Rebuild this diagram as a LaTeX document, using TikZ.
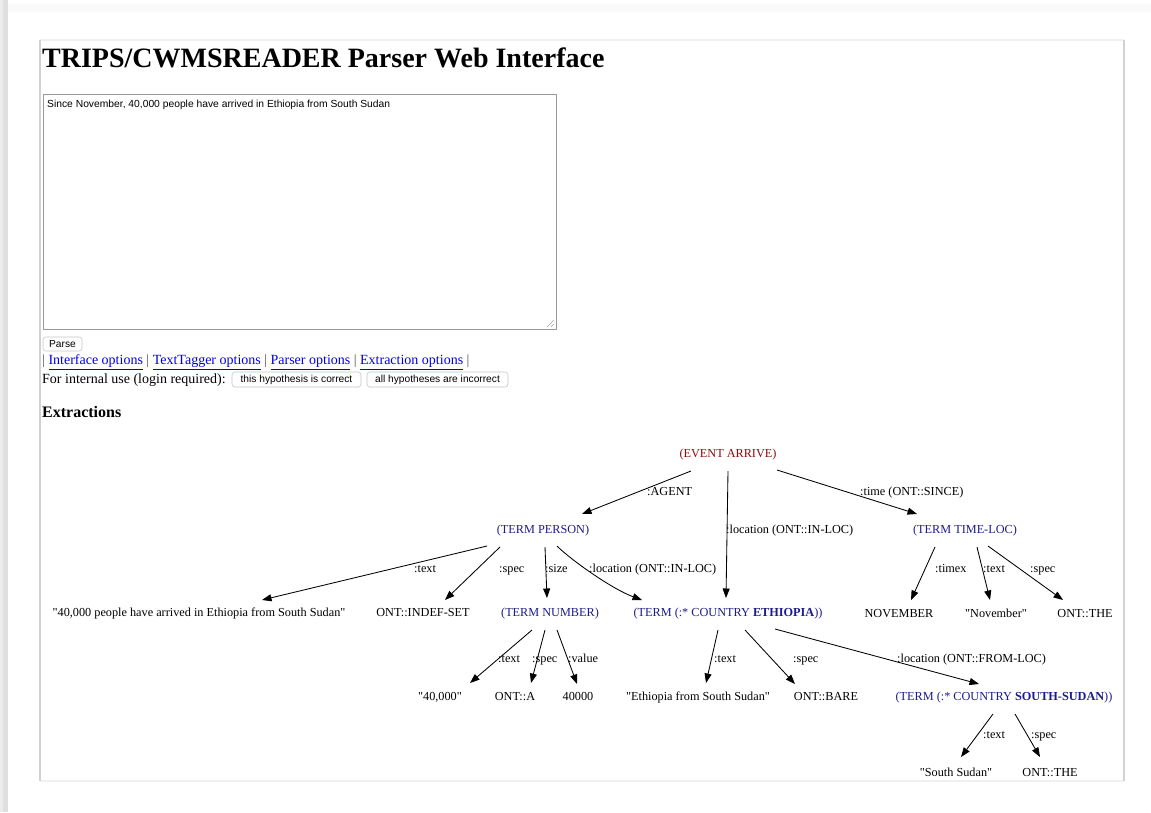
\documentclass[tikz,border=0pt]{standalone}
\usepackage{fontspec}
\setmainfont{Liberation Serif}[Ligatures=TeXOff]
\newfontfamily\uifont{Liberation Sans}
\usetikzlibrary{arrows.meta}
\definecolor{evred}{RGB}{140,10,10}
\definecolor{termblue}{RGB}{28,28,140}
\definecolor{linkblue}{RGB}{0,0,238}
\definecolor{sepgray}{RGB}{80,80,80}
\newcommand{\weblink}[1]{{\color{linkblue}\underline{#1}}}
\newcommand{\barsep}{{\color{sepgray}|}}

\begin{document}
\begin{tikzpicture}[x=1pt,y=-1pt,
  tn/.style={font=\fontsize{12.25}{14}\selectfont, inner sep=0pt, text height=8.6pt, text depth=2.6pt},
  evnode/.style={tn, text=evred},
  term/.style={tn, text=termblue},
  lbl/.style={tn, anchor=west},
  edge/.style={line width=0.85pt, -{Triangle[length=9.5pt,width=7pt]}},
  btn/.style={draw=gray!45, fill=white, rounded corners=3pt, line width=0.6pt,
              font=\uifont\fontsize{10.2}{12}\selectfont, inner sep=0pt}
]

% page
\useasboundingbox (0,0) rectangle (1151,812);
\fill[white] (0,0) rectangle (1151,812);
\fill[gray!25] (0,0) rectangle (8,812);
\fill[gray!15] (0,0) rectangle (2.5,812);
\fill[black!2] (8,4) rectangle (1151,12);

% content frame
\draw[gray!12, line width=1.5pt] (40,40) -- (1124,40);
\draw[gray!12, line width=2pt] (40,781) -- (1124,781);
\draw[gray!35, line width=2pt] (40,40) -- (40,781);
\draw[gray!35, line width=2pt] (1124,40) -- (1124,781);

% heading
\node[anchor=base west, inner sep=0pt, font=\bfseries\fontsize{28}{32}\selectfont] (title) at (42,67) {TRIPS/CWMSREADER Parser Web Interface};

% input area
\draw[gray!80, line width=0.8pt] (43,94) rectangle (556,329);
\node[anchor=west, inner sep=0pt, font=\uifont\fontsize{10.3}{12}\selectfont] (sentence) at (47,104.5) {Since November, 40,000 people have arrived in Ethiopia from South Sudan};
\draw[gray!70, line width=0.6pt] (554,320) -- (547,327) (554,324) -- (551,327);

% controls
\node[btn, minimum width=39pt, minimum height=14pt] (parse) at (62.5,344) {Parse};
\node[anchor=west, inner sep=0pt, font=\fontsize{14}{16}\selectfont] (links) at (42,362)
  {\barsep\ \weblink{Interface options} \barsep\ \weblink{TextTagger options} \barsep\ \weblink{Parser options} \barsep\ \weblink{Extraction options} \barsep};
\node[anchor=west, inner sep=0pt, font=\fontsize{14}{16}\selectfont] (internal) at (42,380) {For internal use (login required):};
\node[btn, minimum width=129pt, minimum height=15pt] (okbtn) at (296.5,379.5) {this hypothesis is correct};
\node[btn, minimum width=141pt, minimum height=15pt] (badbtn) at (437.5,379.5) {all hypotheses are incorrect};
\node[anchor=west, inner sep=0pt, font=\bfseries\fontsize{16}{18}\selectfont] (extr) at (42,412) {Extractions};

% extraction tree
\node[evnode] (ev) at (728,454) {(EVENT ARRIVE)};
\node[term] (per) at (543,530) {(TERM PERSON)};
\node[term] (tl) at (965,530) {(TERM TIME-LOC)};
\node[tn] (ptxt) at (199,613) {"40,000 people have arrived in Ethiopia from South Sudan"};
\node[tn] (indef) at (423,613) {ONT::INDEF-SET};
\node[term] (num) at (550,613) {(TERM NUMBER)};
\node[term] (eth) at (728,613) {(TERM (:* COUNTRY \textbf{ETHIOPIA}))};
\node[tn] (nov) at (899,614) {NOVEMBER};
\node[tn] (novq) at (996,614) {"November"};
\node[tn] (theA) at (1085,614) {ONT::THE};
\node[tn] (q40) at (440,697) {"40,000"};
\node[tn] (onta) at (515,697) {ONT::A};
\node[tn] (n40) at (578,697) {40000};
\node[tn] (ethq) at (698,697) {"Ethiopia from South Sudan"};
\node[tn] (bare) at (826,697) {ONT::BARE};
\node[term] (ss) at (1004,697) {(TERM (:* COUNTRY \textbf{SOUTH-SUDAN}))};
\node[tn] (ssq) at (956,773) {"South Sudan"};
\node[tn] (theB) at (1050,773) {ONT::THE};

% edges
\draw[edge] ([shift={(-37,17)}]ev.center) -- ([shift={(39,-16)}]per.center);
\draw[edge] ([shift={(0,17)}]ev.center) -- ([shift={(-2,-15)}]eth.center);
\draw[edge] ([shift={(49,16)}]ev.center) -- ([shift={(-48,-16)}]tl.center);

\draw[edge] ([shift={(-56,16)}]per.center) -- ([shift={(63,-13)}]ptxt.center);
\draw[edge] ([shift={(-43,17)}]per.center) -- ([shift={(22,-13)}]indef.center);
\draw[edge] ([shift={(2,17)}]per.center) -- ([shift={(-3,-15)}]num.center);
\draw[edge] ([shift={(14,16)}]per.center) .. controls +(14,14) and +(-30,-11) .. ([shift={(-86,-13)}]eth.center);

\draw[edge] ([shift={(-30,17)}]tl.center) -- ([shift={(12,-14)}]nov.center);
\draw[edge] ([shift={(12,17)}]tl.center) -- ([shift={(-6,-14)}]novq.center);
\draw[edge] ([shift={(23,16)}]tl.center) -- ([shift={(-22,-14)}]theA.center);

\draw[edge] ([shift={(-18,17)}]num.center) -- ([shift={(30,-14)}]q40.center);
\draw[edge] ([shift={(-5,17)}]num.center) -- ([shift={(16,-14)}]onta.center);
\draw[edge] ([shift={(7,17)}]num.center) -- ([shift={(-1,-13)}]n40.center);

\draw[edge] ([shift={(-10,17)}]eth.center) -- ([shift={(8,-14)}]ethq.center);
\draw[edge] ([shift={(17,17)}]eth.center) -- ([shift={(-31,-13)}]bare.center);
\draw[edge] ([shift={(47,16)}]eth.center) -- ([shift={(-25,-13)}]ss.center);

\draw[edge] ([shift={(-11,17)}]ss.center) -- ([shift={(5,-16)}]ssq.center);
\draw[edge] ([shift={(11,17)}]ss.center) -- ([shift={(-10,-16)}]theB.center);

% edge labels
\node[lbl] (l1) at (647,492) {:AGENT};
\node[lbl] (l2) at (726,530) {:location (ONT::IN-LOC)};
\node[lbl] (l3) at (860,492) {:time (ONT::SINCE)};
\node[lbl] (l4) at (414,569) {:text};
\node[lbl] (l5) at (499,569) {:spec};
\node[lbl] (l6) at (545,569) {:size};
\node[lbl] (l7) at (589,569) {:location (ONT::IN-LOC)};
\node[lbl] (l8) at (935,569) {:timex};
\node[lbl] (l9) at (983,569) {:text};
\node[lbl] (l10) at (1030,569) {:spec};
\node[lbl] (l11) at (498,659) {:text};
\node[lbl] (l12) at (532,659) {:spec};
\node[lbl] (l13) at (568,659) {:value};
\node[lbl] (l14) at (714,659) {:text};
\node[lbl] (l15) at (793,659) {:spec};
\node[lbl] (l16) at (897,659) {:location (ONT::FROM-LOC)};
\node[lbl] (l17) at (983,735) {:text};
\node[lbl] (l18) at (1031,735) {:spec};
\end{tikzpicture}
\end{document}
